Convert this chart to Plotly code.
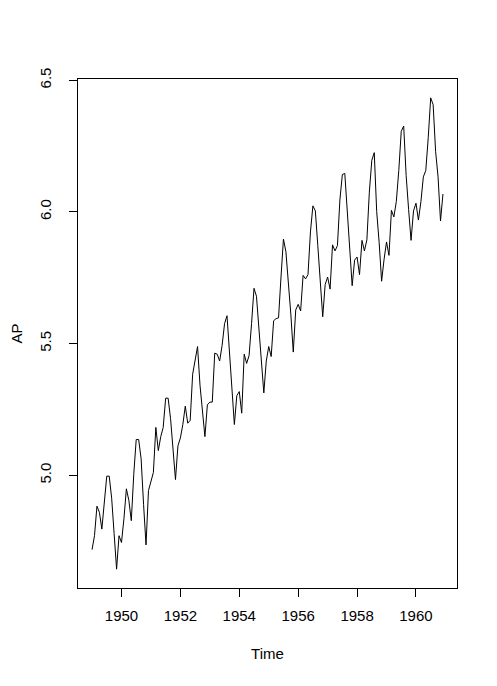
import plotly.graph_objects as go

start_year = 1949
months_per_year = 12

# log(AirPassengers), monthly 1949-1960
log_ap = [
    4.718, 4.771, 4.883, 4.860, 4.796, 4.905, 4.997, 4.997, 4.913, 4.779, 4.644, 4.771,
    4.745, 4.836, 4.949, 4.905, 4.828, 5.004, 5.136, 5.136, 5.063, 4.890, 4.736, 4.942,
    4.977, 5.011, 5.182, 5.094, 5.147, 5.182, 5.293, 5.293, 5.215, 5.088, 4.984, 5.112,
    5.142, 5.193, 5.263, 5.198, 5.209, 5.384, 5.438, 5.489, 5.342, 5.252, 5.147, 5.268,
    5.278, 5.278, 5.464, 5.460, 5.434, 5.493, 5.576, 5.606, 5.468, 5.352, 5.193, 5.303,
    5.318, 5.236, 5.460, 5.425, 5.455, 5.576, 5.710, 5.680, 5.557, 5.434, 5.313, 5.434,
    5.489, 5.451, 5.587, 5.595, 5.598, 5.753, 5.897, 5.849, 5.743, 5.613, 5.468, 5.628,
    5.649, 5.624, 5.759, 5.746, 5.762, 5.924, 6.023, 6.004, 5.872, 5.724, 5.602, 5.724,
    5.753, 5.707, 5.875, 5.852, 5.872, 6.045, 6.142, 6.146, 6.001, 5.849, 5.720, 5.817,
    5.829, 5.762, 5.892, 5.852, 5.894, 6.075, 6.196, 6.225, 6.001, 5.883, 5.737, 5.820,
    5.886, 5.835, 6.006, 5.981, 6.040, 6.157, 6.306, 6.326, 6.138, 6.009, 5.892, 6.004,
    6.033, 5.969, 6.038, 6.133, 6.157, 6.282, 6.433, 6.407, 6.230, 6.133, 5.966, 6.068,
]

x_ticks = [1950, 1952, 1954, 1956, 1958, 1960]
x_tick_labels = ["1950", "1952", "1954", "1956", "1958", "1960"]
y_ticks = [5.0, 5.5, 6.0, 6.5]
y_tick_labels = ["5.0", "5.5", "6.0", "6.5"]

time = [start_year + i / months_per_year for i in range(len(log_ap))]

def padded(lo, hi, frac=0.04):
    d = (hi - lo) * frac
    return [lo - d, hi + d]

fig = go.Figure()
fig.add_trace(go.Scatter(x=time, y=log_ap, mode="lines",
                         line=dict(color="black", width=1), hoverinfo="skip"))

font = dict(family="Liberation Sans, Arial, sans-serif", size=15, color="black")

# page body has an 8px default margin, so the figure is sized/offset to compensate
fig.update_layout(
    width=489, height=678,
    margin=dict(l=70, r=40, t=71, b=98, autoexpand=False),
    paper_bgcolor="white", plot_bgcolor="white",
    showlegend=False,
    font=font,
    xaxis=dict(range=padded(min(time), max(time)), tickvals=x_ticks, ticktext=x_tick_labels,
               showgrid=False, zeroline=False, showline=True, linecolor="black", linewidth=1,
               mirror=True, ticks="outside", ticklen=8, tickcolor="black", tickwidth=1,
               ticklabelstandoff=6, automargin=False,
               title=dict(text="Time", font=font, standoff=25)),
    yaxis=dict(range=padded(min(log_ap), max(log_ap)), tickvals=y_ticks, ticktext=y_tick_labels,
               showgrid=False, zeroline=False, showline=True, linecolor="black", linewidth=1,
               mirror=True, ticks="outside", ticklen=8, tickcolor="black", tickwidth=1,
               tickangle=-90, ticklabelstandoff=12, automargin=False,
               title=dict(text="AP", font=font, standoff=17)),
)

fig.write_html("out.html")
